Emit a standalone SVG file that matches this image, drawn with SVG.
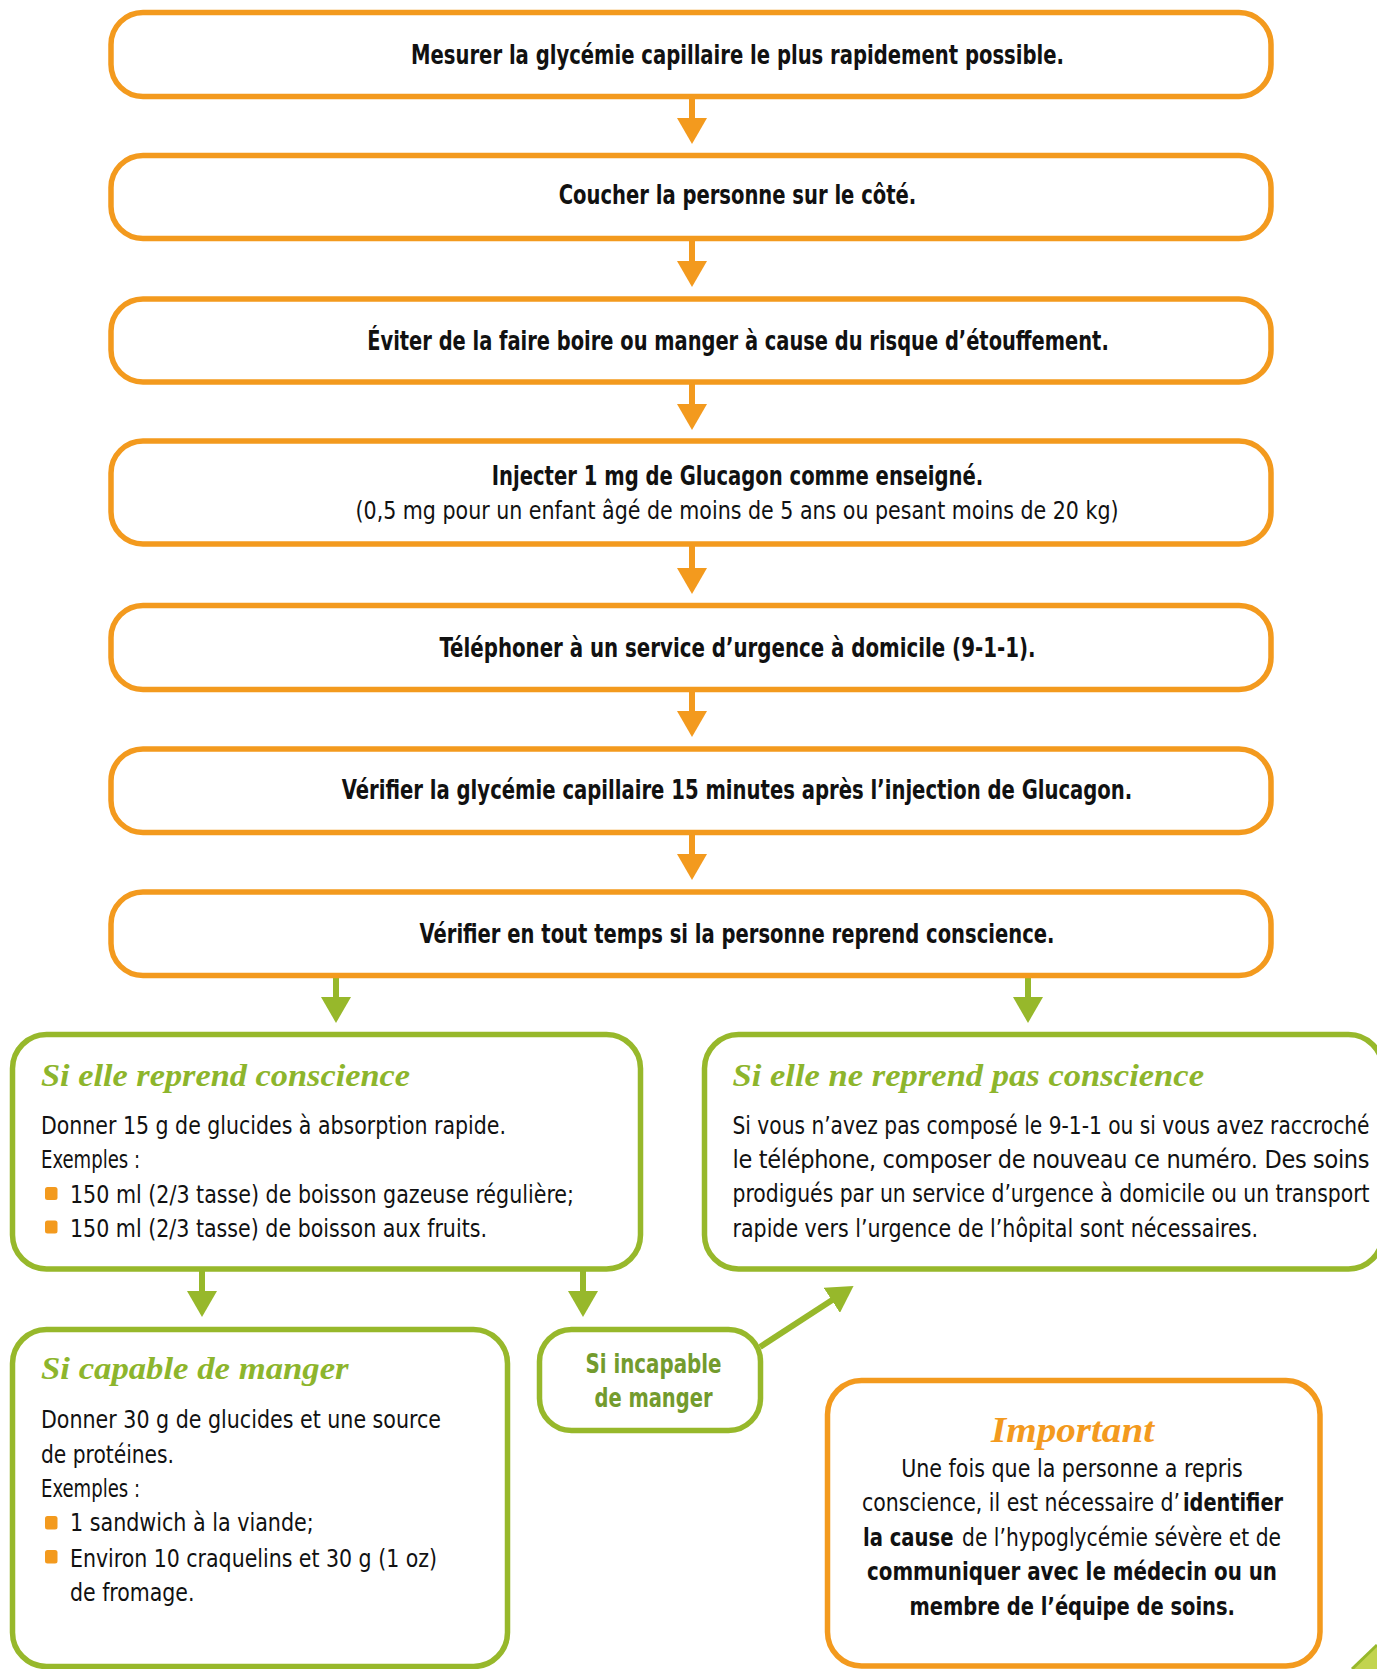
<svg xmlns="http://www.w3.org/2000/svg" width="1377" height="1669" viewBox="0 0 1377 1669">
<style>
.ob{fill:#fff;stroke:#F39A1E;stroke-width:5.5}
.gb{fill:#fff;stroke:#97B82B;stroke-width:5.5}
.hd{font-family:'Liberation Sans Narrow','DejaVu Sans Condensed','Liberation Sans',sans-serif;font-weight:bold;font-size:26px;fill:#111;text-anchor:middle}
.rg{font-family:'Liberation Sans Narrow','DejaVu Sans Condensed','Liberation Sans',sans-serif;font-size:25px;fill:#111}
.c{text-anchor:middle}
.b{font-weight:bold}
.tt{font-family:'Liberation Serif','DejaVu Serif',serif;font-style:italic;font-weight:bold;font-size:32px;fill:#8DB52C}
.imp{font-family:'Liberation Serif','DejaVu Serif',serif;font-style:italic;font-weight:bold;font-size:36px;fill:#F39A1E;text-anchor:middle}
.gt{font-family:'Liberation Sans Narrow','DejaVu Sans Condensed','Liberation Sans',sans-serif;font-weight:bold;font-size:26px;fill:#739B2D;text-anchor:middle}
.bul{fill:#F39A1E}
.oa{stroke:#F39A1E;stroke-width:6;fill:none}
.ga{stroke:#97B82B;stroke-width:6;fill:none}
</style>
<defs>
<marker id="mo" markerUnits="userSpaceOnUse" markerWidth="27" markerHeight="30" refX="1" refY="15" orient="auto">
<path d="M0,0 L26,15 L0,30 z" fill="#F39A1E"/>
</marker>
<marker id="mg" markerUnits="userSpaceOnUse" markerWidth="27" markerHeight="30" refX="1" refY="15" orient="auto">
<path d="M0,0 L26,15 L0,30 z" fill="#97B82B"/>
</marker>
</defs>
<rect width="1377" height="1669" fill="#fff"/>

<g id="connectors">
<line class="oa" x1="692" y1="98" x2="692" y2="119" marker-end="url(#mo)"/>
<line class="oa" x1="692" y1="240" x2="692" y2="262" marker-end="url(#mo)"/>
<line class="oa" x1="692" y1="383" x2="692" y2="405" marker-end="url(#mo)"/>
<line class="oa" x1="692" y1="545" x2="692" y2="569" marker-end="url(#mo)"/>
<line class="oa" x1="692" y1="691" x2="692" y2="712" marker-end="url(#mo)"/>
<line class="oa" x1="692" y1="834" x2="692" y2="855" marker-end="url(#mo)"/>
<line class="ga" x1="336" y1="977" x2="336" y2="998" marker-end="url(#mg)"/>
<line class="ga" x1="1028" y1="977" x2="1028" y2="998" marker-end="url(#mg)"/>
<line class="ga" x1="202" y1="1271" x2="202" y2="1292" marker-end="url(#mg)"/>
<line class="ga" x1="583" y1="1271" x2="583" y2="1292" marker-end="url(#mg)"/>
<line class="ga" x1="760" y1="1347" x2="832.6" y2="1299.7" marker-end="url(#mg)"/>
</g>

<g id="n1">
<rect class="ob" x="111" y="12.5" width="1160" height="84" rx="32"/>
<text class="hd" x="737.5" y="64" textLength="653" lengthAdjust="spacingAndGlyphs">Mesurer la glycémie capillaire le plus rapidement possible.</text>
</g>
<g id="n2">
<rect class="ob" x="111" y="155.5" width="1160" height="83" rx="32"/>
<text class="hd" x="737.5" y="204" textLength="357.6" lengthAdjust="spacingAndGlyphs">Coucher la personne sur le côté.</text>
</g>
<g id="n3">
<rect class="ob" x="111" y="299" width="1160" height="83" rx="32"/>
<text class="hd" x="738" y="350" textLength="741.6" lengthAdjust="spacingAndGlyphs">Éviter de la faire boire ou manger à cause du risque d’étouffement.</text>
</g>
<g id="n4">
<rect class="ob" x="111" y="441" width="1160" height="103" rx="32"/>
<text class="hd" x="737.5" y="485" textLength="491.6" lengthAdjust="spacingAndGlyphs">Injecter 1 mg de Glucagon comme enseigné.</text>
<text class="rg c" x="737" y="519" textLength="763" lengthAdjust="spacingAndGlyphs">(0,5 mg pour un enfant âgé de moins de 5 ans ou pesant moins de 20 kg)</text>
</g>
<g id="n5">
<rect class="ob" x="111" y="605.5" width="1160" height="84" rx="32"/>
<text class="hd" x="737.5" y="657" textLength="596" lengthAdjust="spacingAndGlyphs">Téléphoner à un service d’urgence à domicile (9-1-1).</text>
</g>
<g id="n6">
<rect class="ob" x="111" y="749" width="1160" height="83.5" rx="32"/>
<text class="hd" x="737" y="799" textLength="790.6" lengthAdjust="spacingAndGlyphs">Vérifier la glycémie capillaire 15 minutes après l’injection de Glucagon.</text>
</g>
<g id="n7">
<rect class="ob" x="111" y="892" width="1160" height="83.5" rx="32"/>
<text class="hd" x="737" y="943" textLength="635" lengthAdjust="spacingAndGlyphs">Vérifier en tout temps si la personne reprend conscience.</text>
</g>

<g id="n8">
<rect class="gb" x="12.5" y="1034.5" width="628" height="234.5" rx="34"/>
<text class="tt" x="41" y="1086" textLength="369" lengthAdjust="spacingAndGlyphs">Si elle reprend conscience</text>
<text class="rg" x="41" y="1134" textLength="465" lengthAdjust="spacingAndGlyphs">Donner 15 g de glucides à absorption rapide.</text>
<text class="rg" x="41" y="1167.5" textLength="99" lengthAdjust="spacingAndGlyphs">Exemples :</text>
<rect class="bul" x="45" y="1187" width="12.5" height="13" rx="2.5"/>
<text class="rg" x="70" y="1202.5" textLength="504" lengthAdjust="spacingAndGlyphs">150 ml (2/3 tasse) de boisson gazeuse régulière;</text>
<rect class="bul" x="45" y="1220.5" width="12.5" height="13" rx="2.5"/>
<text class="rg" x="70" y="1236.5" textLength="417" lengthAdjust="spacingAndGlyphs">150 ml (2/3 tasse) de boisson aux fruits.</text>
</g>

<g id="n9">
<rect class="gb" x="704.5" y="1034.5" width="678" height="234.5" rx="34"/>
<text class="tt" x="732.5" y="1086" textLength="471.5" lengthAdjust="spacingAndGlyphs">Si elle ne reprend pas conscience</text>
<text class="rg" transform="translate(732.5,1133.5) scale(0.85,1)" x="0" y="0" textLength="749.4" lengthAdjust="spacingAndGlyphs">Si vous n’avez pas composé le 9-1-1 ou si vous avez raccroché</text>
<text class="rg" x="732.5" y="1167.5" textLength="637" lengthAdjust="spacing">le téléphone, composer de nouveau ce numéro. Des soins</text>
<text class="rg" transform="translate(732.5,1202) scale(0.85,1)" x="0" y="0" textLength="749.4" lengthAdjust="spacingAndGlyphs">prodigués par un service d’urgence à domicile ou un transport</text>
<text class="rg" x="732.5" y="1237" textLength="525.5" lengthAdjust="spacingAndGlyphs">rapide vers l’urgence de l’hôpital sont nécessaires.</text>
</g>

<g id="n10">
<rect class="gb" x="12.5" y="1329.5" width="495" height="337" rx="34"/>
<text class="tt" x="41" y="1379" textLength="307.6" lengthAdjust="spacingAndGlyphs">Si capable de manger</text>
<text class="rg" x="41" y="1428" textLength="400" lengthAdjust="spacingAndGlyphs">Donner 30 g de glucides et une source</text>
<text class="rg" x="41" y="1462.5" textLength="133" lengthAdjust="spacingAndGlyphs">de protéines.</text>
<text class="rg" x="41" y="1497" textLength="99" lengthAdjust="spacingAndGlyphs">Exemples :</text>
<rect class="bul" x="45" y="1516" width="12.5" height="13.5" rx="2.5"/>
<text class="rg" x="70" y="1531" textLength="243.7" lengthAdjust="spacingAndGlyphs">1 sandwich à la viande;</text>
<rect class="bul" x="45" y="1550" width="12.5" height="13.5" rx="2.5"/>
<text class="rg" x="70" y="1566.5" textLength="367" lengthAdjust="spacingAndGlyphs">Environ 10 craquelins et 30 g (1 oz)</text>
<text class="rg" x="70" y="1600.5" textLength="124.5" lengthAdjust="spacingAndGlyphs">de fromage.</text>
</g>

<g id="n11">
<rect class="gb" x="539.5" y="1329.5" width="221" height="101" rx="32"/>
<text class="gt" x="653.5" y="1373" textLength="136" lengthAdjust="spacingAndGlyphs">Si incapable</text>
<text class="gt" x="653.5" y="1407" textLength="118" lengthAdjust="spacingAndGlyphs">de manger</text>
</g>

<g id="n12">
<rect class="ob" x="827.5" y="1380.5" width="492.5" height="285.5" rx="34"/>
<text class="imp" x="1072.5" y="1441.5" textLength="163" lengthAdjust="spacingAndGlyphs">Important</text>
<text class="rg c" x="1072" y="1477" textLength="341.6" lengthAdjust="spacingAndGlyphs">Une fois que la personne a repris</text>
<text class="rg" transform="translate(862,1511) scale(0.88,1)" x="0" y="0" textLength="361.4" lengthAdjust="spacingAndGlyphs">conscience, il est nécessaire d’</text>
<text class="rg b" transform="translate(1183,1511) scale(0.82,1)" x="0" y="0" textLength="122" lengthAdjust="spacingAndGlyphs">identifier</text>
<text class="rg b" x="863" y="1545.5" textLength="90.5" lengthAdjust="spacingAndGlyphs">la cause</text>
<text class="rg" x="962" y="1545.5" textLength="319" lengthAdjust="spacingAndGlyphs">de l’hypoglycémie sévère et de</text>
<text class="rg c b" x="1072" y="1580" textLength="410" lengthAdjust="spacingAndGlyphs">communiquer avec le médecin ou un</text>
<text class="rg b" x="909.5" y="1614.5" textLength="325.5" lengthAdjust="spacingAndGlyphs">membre de l’équipe de soins.</text>
</g>

<g id="corner">
<polygon points="1352,1669 1377,1645 1377,1669" fill="#C2D44F"/>
<line x1="1352" y1="1669" x2="1377" y2="1645" stroke="#97B82B" stroke-width="3"/>
</g>
</svg>
